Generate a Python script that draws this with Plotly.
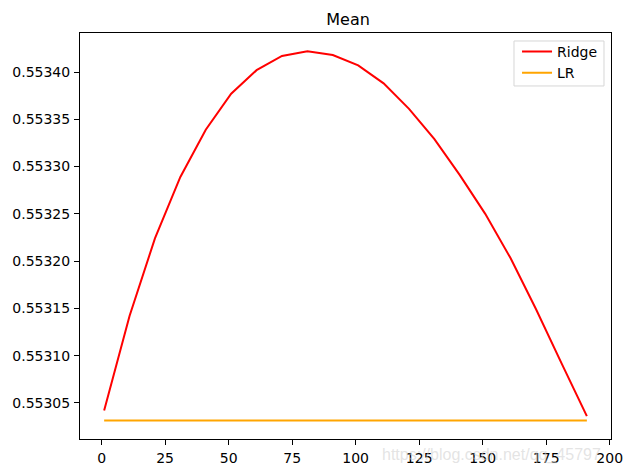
import plotly.graph_objects as go

x_vals = [1, 11, 21, 31, 41, 51, 61, 71, 81, 91, 101, 111, 121, 131, 141, 151, 161, 171, 181, 191]
ridge_vals = [0.553042, 0.553142, 0.553224, 0.553289, 0.553339, 0.553377, 0.553402, 0.553417,
              0.553422, 0.553418, 0.553407, 0.553388, 0.553361, 0.553329, 0.553291, 0.553250,
              0.553203, 0.553149, 0.553092, 0.553036]
lr_value = 0.5530313
lr_vals = [lr_value] * len(x_vals)
x_ticks = [0, 25, 50, 75, 100, 125, 150, 175, 200]
y_ticks = [0.55305, 0.55310, 0.55315, 0.55320, 0.55325, 0.55330, 0.55335, 0.55340]

fig = go.Figure()
fig.add_trace(go.Scatter(x=x_vals, y=ridge_vals, mode="lines", name="Ridge",
                         line=dict(color="red", width=2)))
fig.add_trace(go.Scatter(x=x_vals, y=lr_vals, mode="lines", name="LR",
                         line=dict(color="orange", width=2)))

font = "DejaVu Sans, sans-serif"
fig.update_layout(
    width=624, height=464,
    margin=dict(l=72, r=21, t=25, b=33),
    paper_bgcolor="white", plot_bgcolor="white",
    font=dict(family=font, size=14, color="black"),
    title=dict(text="Mean", x=0.545, xanchor="center", y=0.975, yanchor="middle",
               font=dict(family=font, size=16, color="black")),
    showlegend=True,
    legend=dict(x=0.985, y=0.993, xanchor="right", yanchor="top",
                borderwidth=0, bgcolor="rgba(255,255,255,0)",
                font=dict(family=font, size=14), tracegroupgap=0, itemwidth=30),
    xaxis=dict(range=[-8.5, 200.5], tickvals=x_ticks, showgrid=False, zeroline=False,
               showline=True, linecolor="black", linewidth=1, mirror=True, automargin=False,
               ticks="outside", ticklen=5, tickcolor="black", ticklabelstandoff=1),
    yaxis=dict(range=[0.5530118, 0.5534413], tickvals=y_ticks, tickformat=".5f",
               showgrid=False, zeroline=False, automargin=False,
               showline=True, linecolor="black", linewidth=1, mirror=True,
               ticks="outside", ticklen=5, tickcolor="black", ticklabelstandoff=1),
)
# legend frame
fig.add_shape(type="rect", xref="paper", yref="paper",
              x0=0.8173, x1=0.9868, y0=0.8695, y1=0.9803,
              line=dict(color="#d6d6d6", width=1), fillcolor="rgba(255,255,255,0.8)",
              layer="below")
fig.add_annotation(text="https://blog.csdn.net/qq_45797", xref="paper", yref="paper",
                   x=0.565, y=-0.0394, xanchor="left", yanchor="middle", showarrow=False,
                   font=dict(family="Arial, sans-serif", size=16, color="rgba(205,205,205,0.55)"))

fig.write_html("out.html")
